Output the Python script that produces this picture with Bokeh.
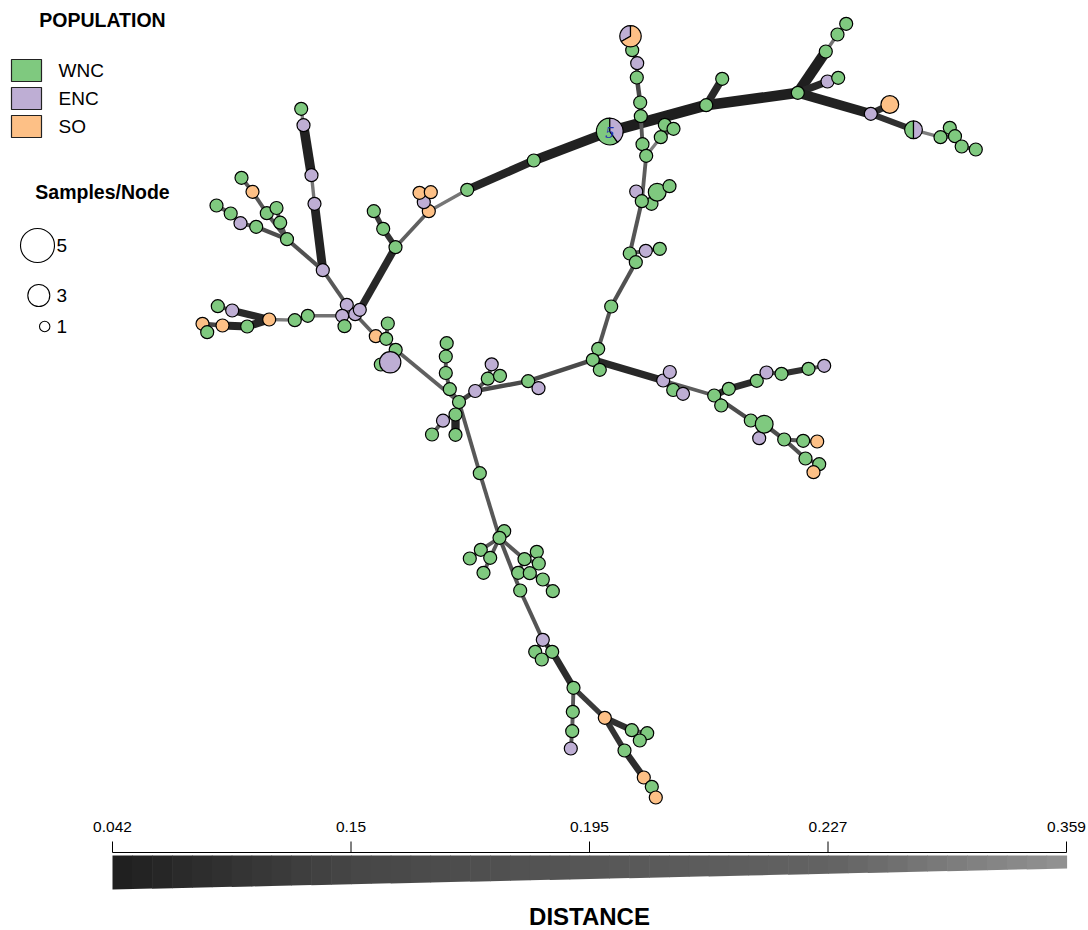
import numpy as np
from bokeh.plotting import figure
from bokeh.models import Range1d, ColumnDataSource
from bokeh.core.properties import value
from bokeh.embed import file_html
from bokeh.resources import INLINE

# ---------------------------------------------------------------------------
# Minimum spanning network: nodes (haplotypes) with population counts
# ---------------------------------------------------------------------------
pop_names = ["WNC", "ENC", "SO"]
pop_colors = ["#7FC97F", "#BEAED4", "#FDC086"]

# node id, layout x, layout y, population
node_id = [
    "a1", "a2", "a3", "a4", "H", "u1", "u2", "u3", "v1", "v2", "r1", "r2", "r3", "r4", "r5", "r6", "r7",
    "c1", "c2", "c3", "c4", "c5", "c6", "c7", "c8", "c9", "c10",
    "d1", "d5", "d2", "d3", "d4", "e1", "e2", "e3", "e4", "f1", "f2", "F", "f3",
    "g1", "g2", "g3", "g4", "G", "g5", "g6", "g7", "g8", "g9", "g10", "g11",
    "h1", "h3", "h2", "h4", "h5", "h6", "h7", "h8", "h9",
    "i1", "i2", "j1", "j2", "j3", "j4", "K", "k1", "k2", "k3", "k4", "k5", "k6", "k7", "k8",
    "m1", "m2", "m3", "m4", "m6", "m5",
    "q1", "q2", "q3", "q4", "q5",
    "n1", "n2", "n3", "n4", "n5", "n6", "n7",
    "s1", "s2", "s3", "s4", "s5",
    "t1", "t2", "t3", "t4", "t5", "t6", "t7", "t8", "t9", "t10",
    "w1", "w2", "w3", "w4", "w5", "w6", "w7", "w8", "w9",
    "b1", "b2", "B", "b3", "b4", "b5", "b6", "b7", "b8", "b9", "b10", "b11", "b12", "b13", "b14",
    "o1", "o2", "o3", "o4", "O", "o5", "o6", "o7",
    "x1", "x2", "x3", "x4", "x5", "x6", "x7", "x8",
    "P5", "P3", "P2",
]
node_x = [
    466.7, 533.3, 705.7, 721.7, 797.3, 825.3, 837.0, 845.7, 827.0, 837.7, 870.3, 889.3, 940.0, 949.3, 954.5, 961.2, 975.3,
    631.7, 636.7, 636.3, 639.7, 640.3, 642.0, 645.7, 660.3, 664.3, 673.0,
    635.7, 651.0, 656.7, 669.0, 641.3, 629.3, 645.3, 659.3, 635.3, 610.7, 597.7, 592.3, 599.3,
    662.7, 669.3, 672.7, 682.5, 713.7, 720.7, 728.3, 756.3, 766.0, 781.0, 808.0, 823.7,
    750.3, 758.7, 763.7, 783.7, 802.7, 816.7, 805.0, 818.7, 813.0,
    527.7, 538.0, 474.7, 487.3, 491.2, 499.5, 458.5, 449.3, 445.3, 445.3, 446.2, 455.0, 442.5, 431.5, 455.0,
    375.3, 385.7, 387.3, 395.2, 380.3, 389.7,
    346.3, 341.7, 354.7, 359.3, 344.0,
    395.0, 382.7, 373.3, 428.3, 423.3, 419.0, 430.3,
    300.7, 303.0, 311.0, 314.0, 322.3,
    241.0, 252.0, 266.3, 276.0, 279.7, 286.5, 216.0, 230.2, 240.0, 255.7,
    217.3, 231.7, 202.0, 206.7, 222.0, 246.7, 268.7, 294.3, 307.3,
    479.3, 503.7, 499.0, 480.3, 469.3, 489.7, 483.0, 524.0, 536.3, 538.3, 517.7, 529.3, 542.3, 552.3, 519.7,
    542.3, 534.7, 551.7, 541.3, 573.0, 572.3, 571.7, 570.3,
    604.3, 631.3, 646.7, 639.3, 624.0, 643.3, 651.3, 655.3,
    609.3, 630.0, 913.0,
]
node_y = [
    189.3, 160.0, 104.7, 78.3, 92.3, 51.0, 34.0, 23.3, 81.0, 77.3, 113.3, 104.0, 136.7, 127.3, 135.7, 146.0, 149.0,
    49.7, 62.7, 77.0, 102.0, 115.7, 143.7, 155.3, 136.7, 124.3, 128.3,
    191.0, 203.3, 191.7, 185.7, 200.7, 253.0, 250.3, 248.3, 261.7, 306.0, 348.3, 359.3, 369.3,
    380.0, 371.5, 389.5, 393.3, 395.0, 405.0, 388.3, 380.3, 372.0, 373.3, 368.3, 365.3,
    420.0, 437.7, 423.7, 439.0, 440.3, 441.0, 458.0, 463.7, 471.7,
    380.7, 387.7, 390.5, 378.2, 363.8, 375.3, 401.5, 388.7, 372.5, 356.0, 342.7, 414.0, 420.2, 434.0, 434.3,
    335.7, 338.3, 323.0, 349.3, 364.0, 361.8,
    304.3, 315.3, 313.7, 309.3, 325.7,
    246.7, 228.3, 210.7, 210.7, 201.7, 192.3, 191.7,
    108.3, 124.7, 174.7, 203.3, 269.7,
    177.3, 191.3, 212.7, 207.5, 222.2, 238.7, 205.0, 213.0, 222.7, 226.3,
    305.7, 310.0, 323.3, 331.7, 325.0, 326.0, 319.0, 319.7, 315.3,
    472.7, 530.7, 537.3, 549.3, 558.0, 557.3, 572.3, 558.7, 551.3, 563.0, 572.3, 572.7, 579.0, 590.7, 590.0,
    639.3, 651.3, 651.3, 659.0, 687.3, 711.3, 730.7, 748.0,
    717.3, 729.7, 732.7, 740.0, 750.0, 777.0, 786.3, 797.0,
    131.0, 35.7, 129.3,
]
W, E, S = "W", "E", "S"
node_pop = [
    W, W, W, W, W, W, W, W, E, W, E, S, W, W, W, W, W,
    W, E, W, W, W, W, W, W, W, W,
    E, W, W, W, W, W, E, W, W, W, W, W, W,
    E, E, W, E, W, W, W, W, E, W, W, E,
    W, E, W, W, W, S, W, W, S,
    W, E, E, W, E, W, W, W, W, W, W, W, E, W, W,
    S, W, W, W, W, E,
    E, E, E, E, W,
    W, W, W, S, E, S, S,
    W, E, E, E, E,
    W, S, W, W, W, W, W, W, E, W,
    W, E, S, W, S, W, S, W, W,
    W, W, W, W, W, W, W, W, W, W, W, W, W, W, W,
    E, W, W, W, W, W, W, E,
    S, W, W, W, W, S, W, S,
    None, None, None,
]
# samples per node (single-population nodes; default 1)
node_n = {"r2": 2, "d2": 2, "h2": 2, "m5": 3}
# mixed nodes: counts per population (WNC, ENC, SO)
mixed_counts = {"P5": (3, 2, 0), "P3": (0, 1, 2), "P2": (1, 1, 0)}

# edges: endpoints and genetic distance
edge_a = [
    "a1", "a2", "P5", "a3", "a3", "H", "u1", "u2", "H", "v1", "H", "r1", "r1", "P2", "r3", "r5", "r5", "r6",
    "a1", "n4", "n5", "n5", "n4", "n1", "n2", "n1",
    "P3", "c1", "c2", "c3", "c4", "c5", "c6", "c7", "c8", "c8", "c7", "d4", "d4", "d5", "d2", "d4",
    "e1", "e2", "e1", "e4", "f1", "f2", "F",
    "F", "g1", "g1", "g3", "g1", "G", "G", "g6", "g7", "g8", "g9", "g10",
    "G", "h1", "h2", "h2", "h4", "h5", "h4", "h7", "h8",
    "F", "i1", "i1", "j1", "j1", "j2", "j2",
    "K", "k1", "k2", "k3", "K", "k5", "k5", "k6",
    "K", "m4", "m2", "m1", "m2", "m4", "m5",
    "q2", "q2", "q3", "q2", "q1", "s5", "s4", "s3", "s2",
    "s5", "t6", "t5", "t6", "t3", "t2", "t6", "t10", "t9", "t8",
    "q2", "w9", "w8", "w7", "w2", "w7", "w6", "w5", "w3",
    "K", "b1", "B", "B", "b3", "B", "b5", "B", "b7", "b7", "b7", "b10", "b11", "b12",
    "B", "b14", "o1", "o1", "o3", "o3", "O", "o5", "o6",
    "O", "x1", "x2", "x2", "x1", "x5", "x6", "x7",
]
edge_b = [
    "a2", "P5", "a3", "H", "a4", "u1", "u2", "u3", "v1", "v2", "r1", "r2", "P2", "r3", "r5", "r4", "r6", "r7",
    "n4", "n5", "n6", "n7", "n1", "n2", "n3", "q4",
    "c1", "c2", "c3", "c4", "c5", "c6", "c7", "c8", "c9", "c10", "d4", "d1", "d5", "d2", "d3", "e1",
    "e2", "e3", "e4", "f1", "f2", "F", "f3",
    "g1", "g2", "g3", "g4", "G", "g5", "g6", "g7", "g8", "g9", "g10", "g11",
    "h1", "h2", "h3", "h4", "h5", "h6", "h7", "h8", "h9",
    "i1", "i2", "j1", "K", "j2", "j3", "j4",
    "k1", "k2", "k3", "k4", "k5", "k8", "k6", "k7",
    "m4", "m2", "m1", "q3", "m3", "m5", "m6",
    "q1", "q3", "q4", "q5", "s5", "s4", "s3", "s2", "s1",
    "t6", "t5", "t4", "t3", "t2", "t1", "t10", "t9", "t8", "t7",
    "w9", "w8", "w7", "w2", "w1", "w6", "w5", "w3", "w4",
    "b1", "B", "b2", "b3", "b4", "b5", "b6", "b7", "b8", "b9", "b10", "b11", "b12", "b13",
    "b14", "o1", "o3", "o2", "o4", "O", "o5", "o6", "o7",
    "x1", "x2", "x3", "x4", "x5", "x6", "x7", "x8",
]
edge_dist = [
    0.060, 0.050, 0.042, 0.045, 0.070, 0.045, 0.270, 0.200, 0.070, 0.120, 0.050, 0.080, 0.090, 0.300, 0.190, 0.200, 0.190, 0.200,
    0.280, 0.200, 0.200, 0.200, 0.220, 0.100, 0.120, 0.070,
    0.200, 0.200, 0.200, 0.150, 0.200, 0.200, 0.200, 0.300, 0.200, 0.200, 0.210, 0.200, 0.200, 0.200, 0.200, 0.190,
    0.200, 0.200, 0.200, 0.180, 0.190, 0.200, 0.200,
    0.070, 0.200, 0.200, 0.200, 0.210, 0.200, 0.080, 0.080, 0.150, 0.200, 0.090, 0.200,
    0.170, 0.150, 0.120, 0.170, 0.200, 0.300, 0.180, 0.200, 0.200,
    0.160, 0.200, 0.160, 0.140, 0.200, 0.200, 0.200,
    0.200, 0.200, 0.200, 0.200, 0.200, 0.060, 0.200, 0.200,
    0.220, 0.220, 0.220, 0.220, 0.200, 0.200, 0.200,
    0.200, 0.200, 0.200, 0.200, 0.200, 0.055, 0.280, 0.050, 0.300,
    0.180, 0.200, 0.200, 0.190, 0.200, 0.200, 0.170, 0.190, 0.200, 0.200,
    0.270, 0.200, 0.300, 0.070, 0.200, 0.065, 0.065, 0.150, 0.200,
    0.200, 0.200, 0.200, 0.200, 0.200, 0.200, 0.200, 0.200, 0.200, 0.200, 0.200, 0.200, 0.200, 0.200,
    0.190, 0.190, 0.120, 0.200, 0.200, 0.080, 0.200, 0.200, 0.200,
    0.120, 0.090, 0.200, 0.200, 0.100, 0.080, 0.150, 0.150,
]

# colour bar: distance quantiles shown as ticks
dist_ticks = [0.042, 0.15, 0.195, 0.227, 0.359]
size_legend = [5, 3, 1]

# ---------------------------------------------------------------------------
D_MIN, D_MAX = dist_ticks[0], dist_ticks[-1]


def edge_gray(d):
    g = 30 + (d - D_MIN) / (D_MAX - D_MIN) * 117
    g = int(round(min(max(g, 0), 255)))
    return "#%02x%02x%02x" % (g, g, g)


def edge_width(d):
    return 2.0 + 0.38 / d


def node_radius(n):
    return 6.5 * n ** 0.45


pos = {k: (x, y) for k, x, y in zip(node_id, node_x, node_y)}

p = figure(width=1088, height=930, x_range=Range1d(0, 1088), y_range=Range1d(930, 0),
           toolbar_location=None, output_backend="svg", min_border=0,
           x_axis_location=None, y_axis_location=None, outline_line_color=None,
           background_fill_color="white", border_fill_color="white")
p.grid.visible = False

FONT = value("Liberation Sans")

# edges
esrc = ColumnDataSource(dict(
    x0=[pos[a][0] for a in edge_a], y0=[pos[a][1] for a in edge_a],
    x1=[pos[b][0] for b in edge_b], y1=[pos[b][1] for b in edge_b],
    w=[edge_width(d) for d in edge_dist], c=[edge_gray(d) for d in edge_dist],
))
p.segment("x0", "y0", "x1", "y1", source=esrc, line_width="w", line_color="c")

# single-population nodes
pc = dict(zip("WES", pop_colors))
sx, sy, ss, sc = [], [], [], []
for k, x, y, pop in zip(node_id, node_x, node_y, node_pop):
    if pop is None:
        continue
    sx.append(x)
    sy.append(y)
    ss.append(2 * node_radius(node_n.get(k, 1)))
    sc.append(pc[pop])
p.scatter(sx, sy, size=ss, fill_color=sc, line_color="black", line_width=1.2, marker="circle")

# mixed nodes drawn as pies, slices starting at 12 o'clock going anticlockwise
wx, wy, wr, ws, we, wc = [], [], [], [], [], []
for k, counts in mixed_counts.items():
    n = sum(counts)
    start = np.pi / 2
    for cnt, col in zip(counts, pop_colors):
        if cnt == 0:
            continue
        end = start + 2 * np.pi * cnt / n
        wx.append(pos[k][0])
        wy.append(pos[k][1])
        wr.append(node_radius(n))
        ws.append(start)
        we.append(end)
        wc.append(col)
        start = end
p.wedge(wx, wy, radius=wr, radius_units="screen", start_angle=ws, end_angle=we,
        direction="anticlock", fill_color=wc, line_color="black", line_width=1.2)

# sample count label on the largest node
p.text([pos["P5"][0]], [pos["P5"][1] + 1], text=[str(sum(mixed_counts["P5"]))],
       text_font=value("DejaVu Serif"), text_font_style="italic", text_font_size="15px",
       text_color="#1f2fb0", text_align="center", text_baseline="middle")

# ---------------------------------------------------------------------------
# legends
p.text([102], [19], text=["POPULATION"], text_font=FONT, text_font_style="bold",
       text_font_size="19.5px", text_align="center", text_baseline="middle")
leg_y = [70, 98, 126]
p.rect([26] * 3, leg_y, width=30, height=22, fill_color=pop_colors, line_color="#222222", line_width=1.2)
p.text([58] * 3, leg_y, text=pop_names, text_font=FONT, text_font_size="19px",
       text_align="left", text_baseline="middle")

p.text([102], [191], text=["Samples/Node"], text_font=FONT, text_font_style="bold",
       text_font_size="19.5px", text_align="center", text_baseline="middle")
sl_y = [245, 295, 326]
sl_r = [17, 11, 5.2]
sl_x = [37, 38.3, 44.2]
p.scatter(sl_x, sl_y, size=[2 * r for r in sl_r], fill_color=None, line_color="black",
          line_width=1.1, marker="circle")
p.text([56] * 3, sl_y, text=[str(v) for v in size_legend], text_font=FONT, text_font_size="19px",
       text_align="left", text_baseline="middle")

# ---------------------------------------------------------------------------
# distance colour bar (wedge shaped, ticks at quantiles)
CB_X0, CB_X1 = 112, 1066
CB_TOP, CB_BOT0, CB_BOT1 = 855, 889, 868
n_bands = 48
qpos = np.linspace(0, 1, len(dist_ticks))
bx, by, bc = [], [], []
for i in range(n_bands):
    t0, t1 = i / n_bands, (i + 1) / n_bands
    xa = CB_X0 + t0 * (CB_X1 - CB_X0)
    xb = CB_X0 + t1 * (CB_X1 - CB_X0) + 0.6
    ya = CB_BOT0 + t0 * (CB_BOT1 - CB_BOT0)
    yb = CB_BOT0 + min(t1 + 0.6 / (CB_X1 - CB_X0), 1) * (CB_BOT1 - CB_BOT0)
    bx.append([xa, xb, xb, xa])
    by.append([CB_TOP, CB_TOP, yb, ya])
    d = np.interp((t0 + t1) / 2, qpos, dist_ticks)
    bc.append(edge_gray(d))
p.patches(bx, by, fill_color=bc, line_color=None)

tick_x = [CB_X0 + q * (CB_X1 - CB_X0) for q in qpos]
p.segment([CB_X0], [852], [CB_X1], [852], line_color="black", line_width=1)
p.segment(tick_x, [841] * len(tick_x), tick_x, [852] * len(tick_x), line_color="black", line_width=1)
p.text(tick_x, [826] * len(tick_x), text=[("%g" % t) for t in dist_ticks], text_font=FONT,
       text_font_size="15.5px", text_align="center", text_baseline="middle")
p.text([589], [916], text=["DISTANCE"], text_font=FONT, text_font_style="bold",
       text_font_size="24px", text_align="center", text_baseline="middle")

open("out.html", "w").write(file_html(p, INLINE))
